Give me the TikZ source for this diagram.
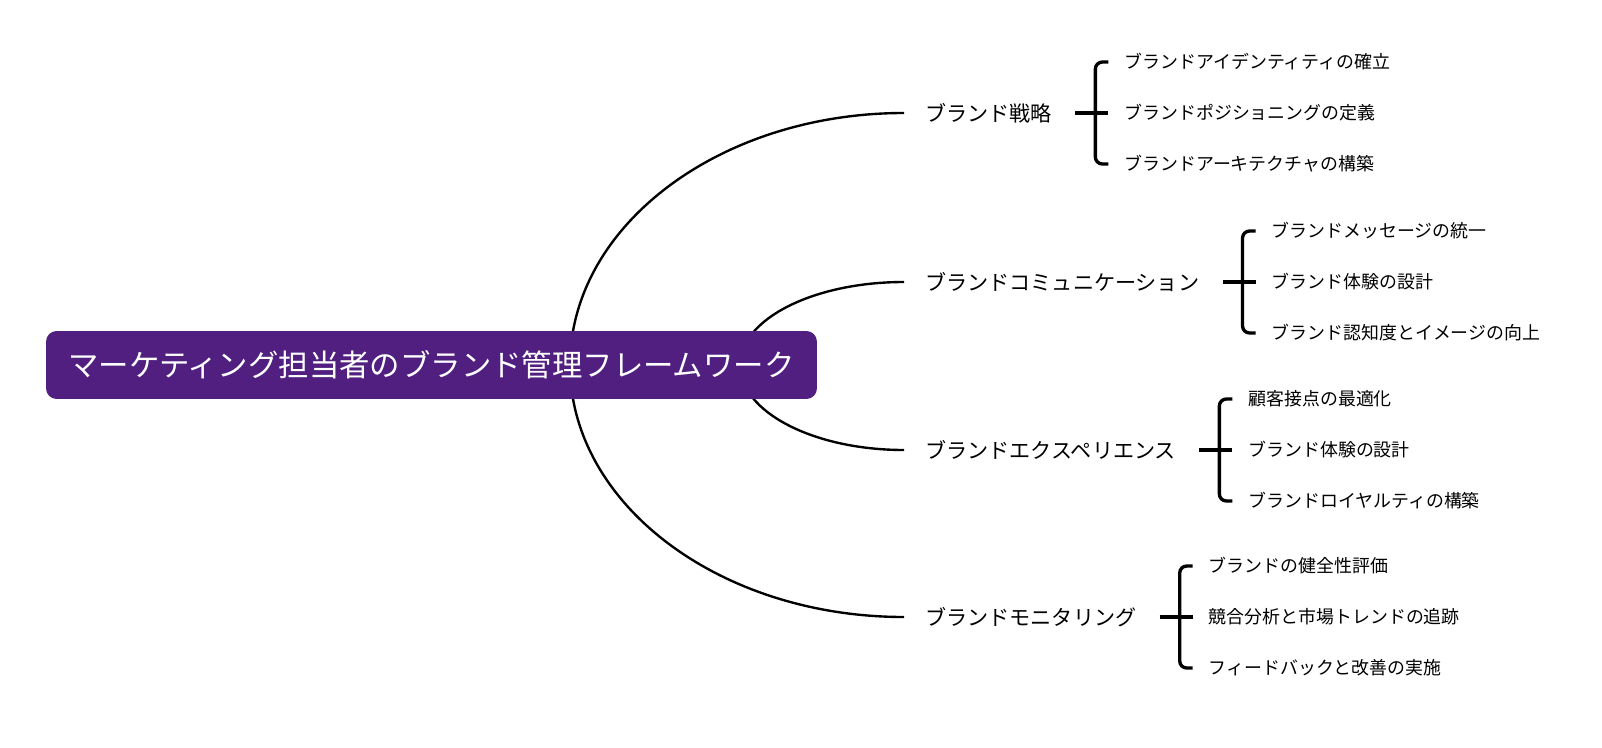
\documentclass[tikz,border=0pt]{standalone}
\usepackage{fontspec}
\setmainfont{Noto Sans CJK JP}
\usetikzlibrary{positioning,calc}
\definecolor{rootpurple}{RGB}{81,31,128}

\begin{document}
\begin{tikzpicture}[x=0.02cm, y=-0.02cm,
	rootbox/.style={fill=rootpurple, rounded corners=6pt, text=white, font=\fontsize{17.3}{20}\selectfont, minimum width=15.42cm, minimum height=1.36cm},
	branch/.style={anchor=west, inner xsep=12pt, font=\fontsize{12}{14}\selectfont},
	leaf/.style={anchor=west, inner xsep=9pt, font=\fontsize{10.2}{12}\selectfont},
	curve/.style={line width=1.35pt},
	brace/.style={line width=1.9pt, rounded corners=4pt}]
			\useasboundingbox (0,0) rectangle (1602,747);
			\node[branch] (b1) at (904,113) {ブランド戦略};
			\node[branch] (b2) at (904,282) {ブランドコミュニケーション};
			\node[branch] (b3) at (904,450) {ブランドエクスペリエンス};
			\node[branch] (b4) at (904,617) {ブランドモニタリング};
			\node[leaf] (b1l2) at ($(b1.east)+(35,0)$) {ブランドポジショニングの定義};
			\node[leaf] (b1l1) at ($(b1l2.west)+(0,-51)$) {ブランドアイデンティティの確立};
			\node[leaf] (b1l3) at ($(b1l2.west)+(0,51)$) {ブランドアーキテクチャの構築};
			\node[leaf] (b2l2) at ($(b2.east)+(35,0)$) {ブランド体験の設計};
			\node[leaf] (b2l1) at ($(b2l2.west)+(0,-51)$) {ブランドメッセージの統一};
			\node[leaf] (b2l3) at ($(b2l2.west)+(0,51)$) {ブランド認知度とイメージの向上};
			\node[leaf] (b3l2) at ($(b3.east)+(35,0)$) {ブランド体験の設計};
			\node[leaf] (b3l1) at ($(b3l2.west)+(0,-51)$) {顧客接点の最適化};
			\node[leaf] (b3l3) at ($(b3l2.west)+(0,51)$) {ブランドロイヤルティの構築};
			\node[leaf] (b4l2) at ($(b4.east)+(35,0)$) {競合分析と市場トレンドの追跡};
			\node[leaf] (b4l1) at ($(b4l2.west)+(0,-51)$) {ブランドの健全性評価};
			\node[leaf] (b4l3) at ($(b4l2.west)+(0,51)$) {フィードバックと改善の実施};
			\foreach \b in {b1,b2,b3,b4} {
				\coordinate (\b k) at ($(\b.east)+(22,0)$);
				\draw[brace] ($(\b.east)+(2,0)$) -- (\b l2.west);
				\draw[brace] (\b l1.west) -| (\b k) |- (\b l3.west);
			}
			\coordinate (o1) at (570,365);
			\coordinate (o2) at (740,365);
			\draw[curve] (o1) .. controls ($(o1)!0.552!(o1|-b1.west)$) and ($(b1.west)!0.552!(o1|-b1.west)$) .. (b1.west);
			\draw[curve] (o2) .. controls ($(o2)!0.552!(o2|-b2.west)$) and ($(b2.west)!0.552!(o2|-b2.west)$) .. (b2.west);
			\draw[curve] (o2) .. controls ($(o2)!0.552!(o2|-b3.west)$) and ($(b3.west)!0.552!(o2|-b3.west)$) .. (b3.west);
			\draw[curve] (o1) .. controls ($(o1)!0.552!(o1|-b4.west)$) and ($(b4.west)!0.552!(o1|-b4.west)$) .. (b4.west);
			\node[rootbox] (root) at (431.5,365) {マーケティング担当者のブランド管理フレームワーク};
		\end{tikzpicture}
\end{document}
